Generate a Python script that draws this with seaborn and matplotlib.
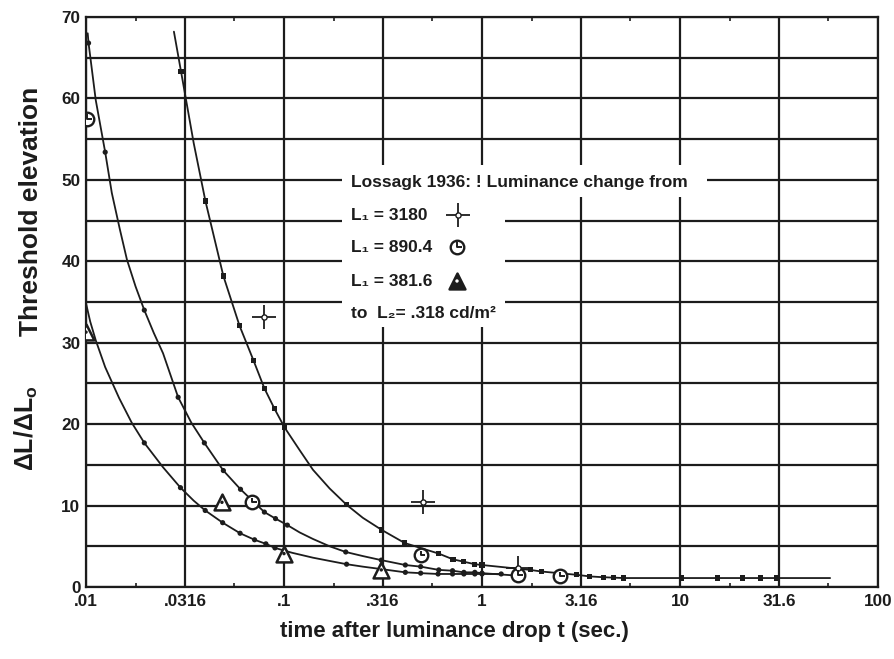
import matplotlib
matplotlib.use("Agg")
import matplotlib.pyplot as plt
import seaborn as sns
from matplotlib.path import Path
from matplotlib.patches import Rectangle
from matplotlib.ticker import FixedLocator, NullFormatter

# ---- fitted threshold-elevation curves (time in s, elevation) ----
curve_3180_t = [0.0278, 0.0302, 0.0350, 0.0401, 0.0494, 0.0596, 0.0702, 0.0796,
                0.0895, 0.1006, 0.120, 0.140, 0.170, 0.207, 0.25, 0.312, 0.407,
                0.605, 0.713, 0.81, 0.92, 1.0, 1.75, 2.0, 3.0, 3.5, 4.1, 5.2,
                10.2, 20.6, 30.9, 57.3]
curve_3180_v = [68.2, 63.3, 54.5, 47.4, 38.2, 32.1, 27.8, 24.4,
                21.9, 19.6, 16.8, 14.4, 12.1, 10.1, 8.5, 7.0, 5.4,
                4.1, 3.4, 3.1, 2.8, 2.7, 2.1, 1.9, 1.5, 1.3, 1.2, 1.1,
                1.1, 1.1, 1.1, 1.1]
dots_3180_t = [0.0302, 0.0401, 0.0494, 0.0596, 0.0702, 0.0796, 0.0895, 0.1006,
               0.207, 0.312, 0.407, 0.605, 0.713, 0.81, 0.92, 1.0, 1.75, 2.0,
               3.0, 3.5, 4.1, 4.6, 5.2, 10.2, 15.4, 20.6, 25.6, 30.9]
dots_3180_v = [63.3, 47.4, 38.2, 32.1, 27.8, 24.4, 21.9, 19.6,
               10.1, 7.0, 5.4, 4.1, 3.4, 3.1, 2.8, 2.7, 2.1, 1.9,
               1.5, 1.3, 1.2, 1.2, 1.1, 1.1, 1.1, 1.1, 1.1, 1.1]

curve_890_t = [0.0102, 0.0103, 0.0112, 0.0125, 0.0135, 0.0148, 0.0161, 0.0178,
               0.0197, 0.0220, 0.0245, 0.0292, 0.0340, 0.0396, 0.0494, 0.0603,
               0.0796, 0.0906, 0.104, 0.120, 0.140, 0.170, 0.205, 0.25,
               0.31, 0.41, 0.49, 0.605, 0.71, 0.81, 0.92, 1.0, 1.5]
curve_890_v = [68.0, 66.8, 59.8, 53.4, 48.4, 44.0, 40.2, 36.9,
               34.0, 31.2, 28.7, 23.3, 20.2, 17.7, 14.3, 12.0,
               9.2, 8.4, 7.6, 6.7, 5.9, 5.0, 4.3, 3.8,
               3.3, 2.7, 2.5, 2.1, 2.0, 1.8, 1.8, 1.7, 1.4]
dots_890_t = [0.0103, 0.0125, 0.0197, 0.0292, 0.0396, 0.0494, 0.0603, 0.0796,
              0.0906, 0.104, 0.205, 0.31, 0.41, 0.49, 0.605, 0.71, 0.81, 0.92, 1.0]
dots_890_v = [66.8, 53.4, 34.0, 23.3, 17.7, 14.3, 12.0, 9.2,
              8.4, 7.6, 4.3, 3.3, 2.7, 2.5, 2.1, 2.0, 1.8, 1.8, 1.7]

curve_381_t = [0.0099, 0.0105, 0.0112, 0.0125, 0.0147, 0.0170, 0.0197, 0.0245,
               0.030, 0.035, 0.040, 0.049, 0.060, 0.071, 0.081, 0.090, 0.110,
               0.140, 0.170, 0.207, 0.25, 0.31, 0.41, 0.49, 0.60, 0.71, 0.81,
               0.92, 1.0, 1.25]
curve_381_v = [35.3, 32.6, 30.3, 27.0, 23.2, 20.2, 17.7, 14.7,
               12.2, 10.6, 9.4, 7.9, 6.6, 5.8, 5.3, 4.8, 4.2,
               3.6, 3.2, 2.8, 2.5, 2.2, 1.8, 1.7, 1.6, 1.6, 1.6,
               1.6, 1.6, 1.6]
dots_381_t = [0.0197, 0.030, 0.040, 0.049, 0.060, 0.071, 0.081, 0.090, 0.207,
              0.41, 0.49, 0.60, 0.71, 0.81, 0.92, 1.0, 1.25]
dots_381_v = [17.7, 12.2, 9.4, 7.9, 6.6, 5.8, 5.3, 4.8, 2.8,
              1.8, 1.7, 1.6, 1.6, 1.6, 1.6, 1.6, 1.6]

# ---- Lossagk 1936 measurements ----
meas_3180_t = [0.0793, 0.503, 1.52]
meas_3180_v = [33.2, 10.4, 2.3]
meas_890_t = [0.0101, 0.0689, 0.49, 1.52, 2.48]
meas_890_v = [57.5, 10.4, 3.9, 1.5, 1.3]
meas_381_t = [0.0100, 0.0486, 0.100, 0.31]
meas_381_v = [31.3, 10.4, 4.1, 2.1]

x_ticks = [0.01, 0.0316, 0.1, 0.316, 1, 3.16, 10, 31.6, 100]
x_tick_labels = [".01", ".0316", ".1", ".316", "1", "3.16", "10", "31.6", "100"]
x_minor = [0.0178, 0.0562, 0.178, 0.562, 1.78, 5.62, 17.8, 56.2]
y_ticks = list(range(0, 71, 5))
y_tick_labels = [str(v) if v % 10 == 0 else "" for v in y_ticks]

legend_title = "Lossagk 1936: ! Luminance change from"
legend_rows = ["L\u2081 = 3180", "L\u2081 = 890.4", "L\u2081 = 381.6"]
legend_foot = "to  L\u2082= .318 cd/m\u00b2"

sns.set_theme(style="white")
plt.rcParams["font.family"] = ["Liberation Sans", "DejaVu Sans"]
plt.rcParams["mathtext.fontset"] = "custom"
plt.rcParams["mathtext.rm"] = "Liberation Sans"
plt.rcParams["mathtext.it"] = "Liberation Sans:italic"
plt.rcParams["mathtext.bf"] = "Liberation Sans:bold"

INK = "#1c1c1c"
W, H = 895, 659
fig = plt.figure(figsize=(W / 100, H / 100), dpi=100)
fig.patch.set_facecolor("white")
ax = fig.add_axes([86 / W, 1 - 587 / H, 792 / W, 570 / H])
ax.set_facecolor("white")

# curves and the computed points on them
for ct, cv in [(curve_3180_t, curve_3180_v), (curve_890_t, curve_890_v),
               (curve_381_t, curve_381_v)]:
    sns.lineplot(x=ct, y=cv, ax=ax, color=INK, lw=1.3, sort=False,
                 estimator=None, zorder=3)
sns.scatterplot(x=dots_3180_t, y=dots_3180_v, ax=ax, marker="s", s=14,
                color=INK, edgecolor="none", zorder=4)
for dt, dv in [(dots_890_t, dots_890_v), (dots_381_t, dots_381_v)]:
    sns.scatterplot(x=dt, y=dv, ax=ax, marker="o", s=14, color=INK,
                    edgecolor="none", zorder=4)

# marker shapes for the measured values
hand = Path([(0, 0.8), (0, 0), (0.8, 0)],
            [Path.MOVETO, Path.LINETO, Path.LINETO])


def draw_cross(xs, ys, transform=None):
    kw = {} if transform is None else {"transform": transform}
    ax.scatter(xs, ys, marker="+", s=300, c=INK, linewidths=1.3, zorder=5, **kw)
    ax.scatter(xs, ys, marker="o", s=14, facecolors="white", edgecolors=INK,
               linewidths=1.0, zorder=6, **kw)


def draw_clock(xs, ys, transform=None):
    kw = {} if transform is None else {"transform": transform}
    ax.scatter(xs, ys, marker="o", s=95, facecolors="white", edgecolors=INK,
               linewidths=1.7, zorder=5, **kw)
    ax.scatter(xs, ys, marker=hand, s=45, facecolors="none", edgecolors=INK,
               linewidths=1.4, zorder=6, **kw)


def draw_tri(xs, ys, transform=None, filled=False):
    kw = {} if transform is None else {"transform": transform}
    ax.scatter(xs, ys, marker="^", s=130, facecolors=INK if filled else "white",
               edgecolors=INK, linewidths=1.8, zorder=5, **kw)
    ax.scatter(xs, ys, marker="o", s=6, facecolors="white" if filled else INK,
               edgecolors="none", zorder=6, **kw)


draw_cross(meas_3180_t, meas_3180_v)
draw_clock(meas_890_t, meas_890_v)
draw_tri(meas_381_t, meas_381_v)

ax.set_xscale("log")
ax.set_xlim(0.01, 100)
ax.set_ylim(0, 70)
ax.set_xticks(x_ticks)
ax.set_xticklabels(x_tick_labels)
ax.xaxis.set_minor_locator(FixedLocator(x_minor))
ax.xaxis.set_minor_formatter(NullFormatter())
ax.set_yticks(y_ticks)
ax.set_yticklabels(y_tick_labels)
ax.set_xlabel("")
ax.set_ylabel("")
ax.grid(True, which="major", color=INK, lw=1.6)
ax.set_axisbelow(True)
for sp in ax.spines.values():
    sp.set_visible(True)
    sp.set_color(INK)
    sp.set_linewidth(1.6)
ax.tick_params(which="major", length=0, pad=4, labelsize=12.3, labelcolor=INK)
ax.tick_params(axis="x", which="major", pad=5)
ax.tick_params(axis="x", which="minor", length=3, width=1.2, color=INK,
               direction="in", top=True, bottom=True)
for lab in ax.get_xticklabels() + ax.get_yticklabels():
    lab.set_fontweight("bold")

# legend panel drawn on white over the grid


def fx(px):
    return (px - 86) / 792


def fy(py):
    return (587 - py) / 570


ax.add_patch(Rectangle((fx(342), fy(327)), fx(505) - fx(342), fy(165) - fy(327),
                       transform=ax.transAxes, facecolor="white",
                       edgecolor="none", zorder=1.5))
ax.add_patch(Rectangle((fx(342), fy(197)), fx(707) - fx(342), fy(165) - fy(197),
                       transform=ax.transAxes, facecolor="white",
                       edgecolor="none", zorder=1.5))
txt_kw = dict(transform=ax.transAxes, ha="left", va="center", fontsize=12.5,
              fontweight="bold", color=INK, zorder=7)
ax.text(fx(351), fy(182), legend_title, **txt_kw)
row_y = [215, 247, 281]
for label, py in zip(legend_rows, row_y):
    ax.text(fx(351), fy(py), label, **txt_kw)
ax.text(fx(351), fy(313), legend_foot, **txt_kw)
draw_cross([fx(458)], [fy(215)], transform=ax.transAxes)
draw_clock([fx(457)], [fy(247)], transform=ax.transAxes)
draw_tri([fx(457)], [fy(281)], transform=ax.transAxes, filled=True)

# axis titles
fig.text(31 / W, 1 - 211 / H, "Threshold elevation", rotation=90,
         ha="center", va="center", fontsize=19, fontweight="bold", color=INK)
fig.text(26 / W, 1 - 428 / H, r"$\mathbf{\Delta L/\Delta L_o}$", rotation=90,
         ha="center", va="center", fontsize=18, color=INK)
fig.text(454 / W, 1 - 632 / H, "time after luminance drop t (sec.)",
         ha="center", va="center", fontsize=16, fontweight="bold", color=INK)

fig.savefig("out.png", dpi=100, facecolor="white")
